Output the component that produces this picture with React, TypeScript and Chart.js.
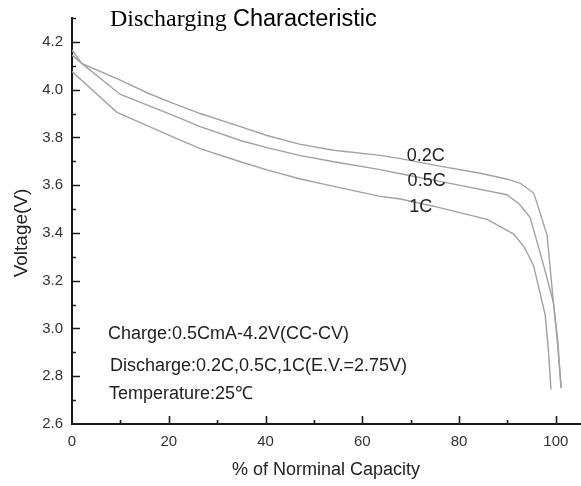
import React, { useEffect, useRef } from 'react';
import { Chart, registerables } from 'chart.js';

Chart.register(...registerables);

// ---- data ----
const capacity02C = [0, 2, 10, 15.5, 20, 26.5, 34.8, 40.3, 47, 54.1, 63.7, 67.9, 76, 84.4, 90, 92.7, 95.4, 96.1, 98.2, 99.5, 100.4, 101.1];
const voltage02C = [4.166, 4.11, 4.04, 3.987, 3.95, 3.9, 3.845, 3.808, 3.772, 3.746, 3.725, 3.711, 3.68, 3.65, 3.625, 3.608, 3.567, 3.526, 3.39, 3.11, 2.95, 2.75];

const capacity05C = [0, 2, 10, 20, 26.5, 34.8, 40.3, 47, 54.1, 63.7, 67.9, 80, 89.9, 92.5, 94.7, 97, 99.5, 100.3, 101.1];
const voltage05C = [4.145, 4.11, 3.98, 3.9, 3.845, 3.787, 3.757, 3.725, 3.698, 3.665, 3.648, 3.6, 3.56, 3.52, 3.464, 3.3, 3.11, 2.95, 2.75];

const capacity1C = [0, 9.3, 20, 26.5, 34.8, 40.3, 47, 54.1, 63.7, 67.9, 74.7, 85.8, 91.3, 93.5, 95.4, 97.8, 98.5, 99.0];
const voltage1C = [4.076, 3.905, 3.81, 3.753, 3.698, 3.664, 3.627, 3.595, 3.553, 3.542, 3.512, 3.457, 3.395, 3.34, 3.264, 3.057, 2.9, 2.745];

const seriesNames = ['0.2C', '0.5C', '1C'];
const seriesLabelX = [73.1, 73.3, 72.1];
const seriesLabelY = [3.722, 3.619, 3.508];

const xMajorTicks = [0, 20, 40, 60, 80, 100];
const xMinorTicks = [10, 30, 50, 70, 90];
const yMajorTicks = [2.6, 2.8, 3.0, 3.2, 3.4, 3.6, 3.8, 4.0, 4.2];
const yMinorTicks = [2.7, 2.9, 3.1, 3.3, 3.5, 3.7, 3.9, 4.1, 4.3];

const titleSerifPart = 'Discharging';
const titleSansPart = 'Characteristic';
const xAxisTitle = '% of Norminal Capacity';
const yAxisTitle = 'Voltage(V)';
const notes = ['Charge:0.5CmA-4.2V(CC-CV)', 'Discharge:0.2C,0.5C,1C(E.V.=2.75V)', 'Temperature:25\u2103'];

const SANS = "'Liberation Sans', Arial, sans-serif";
const SERIF = "'Liberation Serif', 'Times New Roman', serif";
const LINE_COLOR = '#a2a2a2';
const AXIS_COLOR = '#1a1a1a';
const TEXT_COLOR = '#222';

const toPoints = (xs: number[], ys: number[]) => xs.map((x, i) => ({ x, y: ys[i] }));

const decorPlugin = {
  id: 'decor',
  afterDraw(chart: any) {
    const ctx = chart.ctx as CanvasRenderingContext2D;
    const xs = chart.scales.x;
    const ys = chart.scales.y;
    ctx.save();
    // inward ticks
    ctx.strokeStyle = AXIS_COLOR;
    ctx.lineWidth = 1.6;
    ctx.beginPath();
    const bottom = ys.getPixelForValue(2.6);
    const left = xs.getPixelForValue(0);
    xMajorTicks.forEach((v) => {
      if (v === 0) return;
      const p = Math.round(xs.getPixelForValue(v)) + 0.5;
      ctx.moveTo(p, bottom);
      ctx.lineTo(p, bottom - 8);
    });
    xMinorTicks.forEach((v) => {
      const p = Math.round(xs.getPixelForValue(v)) + 0.5;
      ctx.moveTo(p, bottom);
      ctx.lineTo(p, bottom - 4);
    });
    yMajorTicks.forEach((v) => {
      if (v === 2.6) return;
      const p = Math.round(ys.getPixelForValue(v)) + 0.5;
      ctx.moveTo(left, p);
      ctx.lineTo(left + 8, p);
    });
    yMinorTicks.forEach((v) => {
      const p = Math.round(ys.getPixelForValue(v)) + 0.5;
      ctx.moveTo(left, p);
      ctx.lineTo(left + 4, p);
    });
    ctx.stroke();

    // series labels
    ctx.fillStyle = TEXT_COLOR;
    ctx.font = `18px ${SANS}`;
    ctx.textAlign = 'center';
    ctx.textBaseline = 'middle';
    seriesNames.forEach((name, i) => {
      ctx.fillText(name, xs.getPixelForValue(seriesLabelX[i]), ys.getPixelForValue(seriesLabelY[i]));
    });

    // notes
    ctx.textAlign = 'left';
    ctx.textBaseline = 'alphabetic';
    const noteX = [108, 110, 109];
    const noteBase = [339, 371, 399];
    notes.forEach((t, i) => ctx.fillText(t, noteX[i], noteBase[i]));

    // title (two fonts)
    ctx.font = `24px ${SERIF}`;
    ctx.fillStyle = '#000';
    ctx.fillText(titleSerifPart, 110, 26);
    ctx.font = `23.5px ${SANS}`;
    ctx.fillText(titleSansPart, 233, 26);

    // axis titles
    ctx.fillStyle = TEXT_COLOR;
    ctx.font = `18px ${SANS}`;
    ctx.textAlign = 'center';
    ctx.textBaseline = 'middle';
    ctx.fillText(xAxisTitle, 326, 470);
    ctx.save();
    ctx.translate(22, 233);
    ctx.rotate(-Math.PI / 2);
    ctx.font = `19px ${SANS}`;
    ctx.fillText(yAxisTitle, 0, 0);
    ctx.restore();
    ctx.restore();
  },
};

export default function App() {
  const canvasRef = useRef<HTMLCanvasElement | null>(null);

  useEffect(() => {
    if (!canvasRef.current) return;
    const mk = (label: string, xs: number[], ys: number[]) => ({
      label,
      data: toPoints(xs, ys),
      showLine: true,
      borderColor: LINE_COLOR,
      backgroundColor: LINE_COLOR,
      borderWidth: 1.4,
      pointRadius: 0,
      tension: 0,
      fill: false,
    });
    const chart = new Chart(canvasRef.current, {
      type: 'scatter',
      data: {
        datasets: [
          mk(seriesNames[0], capacity02C, voltage02C),
          mk(seriesNames[1], capacity05C, voltage05C),
          mk(seriesNames[2], capacity1C, voltage1C),
        ],
      },
      options: {
        animation: false,
        responsive: false,
        devicePixelRatio: 1,
        layout: { padding: { top: 12, right: 1, left: 0, bottom: 0 } },
        plugins: { legend: { display: false }, tooltip: { enabled: false }, title: { display: false } },
        scales: {
          x: {
            type: 'linear',
            min: 0,
            max: 105,
            grid: { display: false, drawTicks: false },
            border: { display: true, color: AXIS_COLOR, width: 2 },
            ticks: {
              font: { family: SANS, size: 15 },
              color: '#333',
              padding: 9,
              maxRotation: 0,
              autoSkip: false,
            },
            afterBuildTicks: (s: any) => {
              s.ticks = xMajorTicks.map((v) => ({ value: v }));
            },
            afterFit: (s: any) => {
              s.height = 62;
            },
          },
          y: {
            type: 'linear',
            min: 2.6,
            max: 4.3,
            grid: { display: false, drawTicks: false },
            border: { display: true, color: AXIS_COLOR, width: 2 },
            ticks: {
              font: { family: SANS, size: 15 },
              color: '#333',
              padding: 9,
              autoSkip: false,
              callback: (v: any) => Number(v).toFixed(1),
            },
            afterBuildTicks: (s: any) => {
              s.ticks = yMajorTicks.map((v) => ({ value: v }));
            },
            afterFit: (s: any) => {
              s.width = 72;
            },
          },
        },
      },
      plugins: [decorPlugin],
    } as any);
    return () => chart.destroy();
  }, []);

  return (
    <div style={{ position: 'fixed', left: 0, top: 0, width: 581, height: 486, background: '#fff' }}>
      <canvas ref={canvasRef} width={581} height={486} style={{ width: 581, height: 486 }} />
    </div>
  );
}
